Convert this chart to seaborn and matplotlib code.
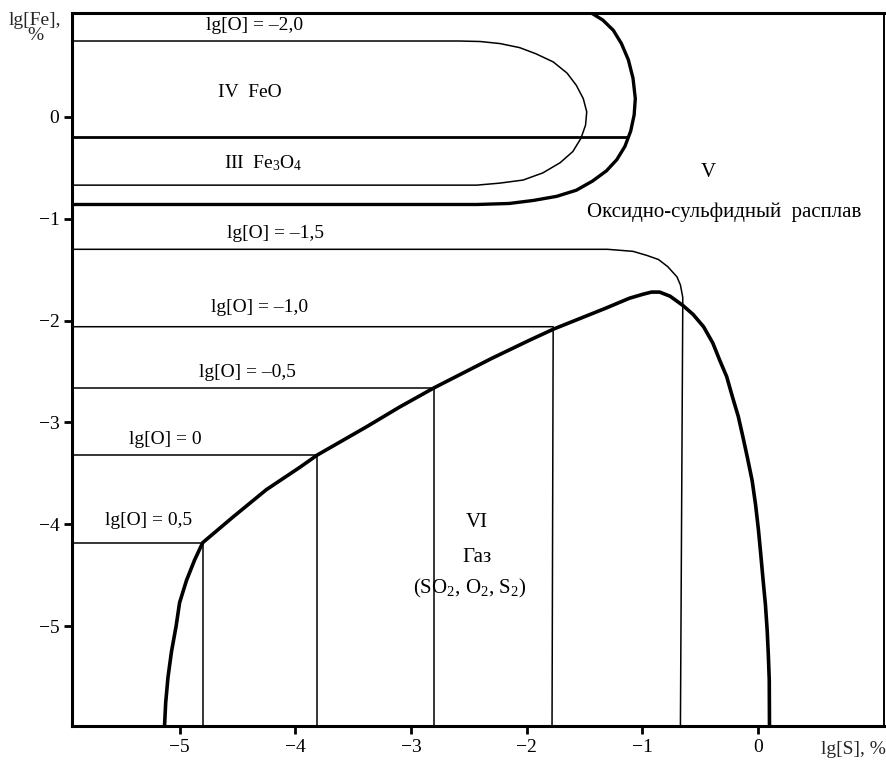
import matplotlib
matplotlib.use("Agg")
import matplotlib.pyplot as plt
import seaborn as sns
import pandas as pd

sns.set_theme(style="white")
plt.rcParams['font.family'] = ['Liberation Serif', 'DejaVu Serif']
plt.rcParams['mathtext.fontset'] = 'custom'
plt.rcParams['mathtext.rm'] = 'Liberation Serif'
plt.rcParams['mathtext.default'] = 'regular'

# ---- data (lg[S], lg[Fe]) ----
XL, YB, YT = -5.93, -5.98, 1.02

# boundary of gas region VI (thick)
gas_x = [-5.13, -5.12, -5.10, -5.07, -5.03, -5.00, -4.94, -4.87, -4.80, -4.54, -4.25, -3.96,
         -3.81, -3.38, -3.10, -2.80, -2.30, -1.97, -1.76, -1.54, -1.32, -1.11, -0.99,
         -0.92, -0.85, -0.76, -0.65, -0.56, -0.47, -0.39, -0.33, -0.27, -0.22, -0.17,
         -0.13, -0.09, -0.05, -0.02, 0.005, 0.025, 0.045, 0.065, 0.08, 0.09, 0.098, 0.10]
gas_y = [-5.98, -5.75, -5.50, -5.25, -5.00, -4.77, -4.55, -4.35, -4.18, -3.93, -3.66, -3.44,
         -3.32, -3.04, -2.85, -2.66, -2.37, -2.19, -2.08, -1.98, -1.88, -1.78, -1.74,
         -1.72, -1.72, -1.76, -1.85, -1.94, -2.06, -2.22, -2.39, -2.55, -2.75, -2.94,
         -3.14, -3.35, -3.57, -3.81, -4.06, -4.30, -4.55, -4.79, -5.04, -5.28, -5.53, -5.98]

# outer thick boundary of oxide region (IV + III)
ox_x = [-1.44, -1.34, -1.25, -1.18, -1.12, -1.08, -1.06, -1.07, -1.10, -1.15, -1.22,
        -1.31, -1.43, -1.57, -1.74, -1.94, -2.15, -2.43, XL]
ox_y = [1.02, 0.95, 0.85, 0.72, 0.56, 0.38, 0.18, 0.02, -0.14, -0.29, -0.42,
        -0.53, -0.63, -0.72, -0.78, -0.82, -0.85, -0.86, -0.86]

# FeO / Fe3O4 boundary (thick horizontal)
feo_x = [XL, -1.13]
feo_y = [-0.20, -0.20]

# iso-oxygen lines
o20_x = [XL, -2.58, -2.40, -2.23, -2.06, -1.92, -1.77, -1.65, -1.57, -1.51, -1.48,
         -1.49, -1.53, -1.60, -1.71, -1.86, -2.03, -2.23, -2.43, -2.58, XL]
o20_y = [0.745, 0.745, 0.74, 0.72, 0.68, 0.62, 0.54, 0.43, 0.31, 0.18, 0.05,
         -0.08, -0.21, -0.34, -0.45, -0.55, -0.62, -0.65, -0.67, -0.67, -0.67]
o15_x = [XL, -1.30, -1.19, -1.08, -0.96, -0.86, -0.78, -0.70, -0.67, -0.65, -0.65, -0.67]
o15_y = [-1.30, -1.30, -1.31, -1.32, -1.36, -1.40, -1.47, -1.57, -1.65, -1.77, -1.90, YB]
o10_x = [XL, -1.77, -1.78]
o10_y = [-2.06, -2.06, YB]
o05_x = [XL, -2.80, -2.80]
o05_y = [-2.66, -2.66, YB]
o00_x = [XL, -3.81, -3.81]
o00_y = [-3.32, -3.32, YB]
op5_x = [XL, -4.80, -4.80]
op5_y = [-4.18, -4.18, YB]

x_ticks = [-5, -4, -3, -2, -1, 0]
y_ticks = [0, -1, -2, -3, -4, -5]

labels = [
    ("lg[O] = –2,0", -4.35, 0.90, 14),
    ("IV  FeO", -4.39, 0.24, 14),
    ("III  Fe$_3$O$_4$", -4.28, -0.45, 14),
    ("V", -0.43, -0.55, 15),
    ("Оксидно-сульфидный  расплав", -0.29, -0.94, 15),
    ("lg[O] = –1,5", -4.17, -1.14, 14),
    ("lg[O] = –1,0", -4.31, -1.87, 14),
    ("lg[O] = –0,5", -4.41, -2.51, 14),
    ("lg[O] = 0", -5.12, -3.17, 14),
    ("lg[O] = 0,5", -5.27, -3.96, 14),
    ("VI", -2.43, -3.98, 15),
    ("Газ", -2.43, -4.33, 15),
    ("(SO$_2$, O$_2$, S$_2$)", -2.49, -4.63, 15),
]

fig = plt.figure(figsize=(8.86, 7.61), dpi=100)
ax = fig.add_axes([72/886, 35/761, 812/886, 713/761])

def draw(xs, ys, lw):
    df = pd.DataFrame({"x": xs, "y": ys})
    sns.lineplot(data=df, x="x", y="y", sort=False, estimator=None,
                 color="black", lw=lw, ax=ax)

draw(gas_x, gas_y, 2.6)
draw(ox_x, ox_y, 2.4)
draw(feo_x, feo_y, 2.0)
for xs, ys in [(o20_x, o20_y), (o15_x, o15_y), (o10_x, o10_y),
               (o05_x, o05_y), (o00_x, o00_y), (op5_x, op5_y)]:
    draw(xs, ys, 1.1)

ax.set_xlim(XL, 1.09)
ax.set_ylim(YB, YT)
ax.set_xticks(x_ticks)
ax.set_yticks(y_ticks)
ax.set_xticklabels([f"−{abs(t)}" if t < 0 else str(t) for t in x_ticks])
ax.set_yticklabels([f"−{abs(t)}" if t < 0 else str(t) for t in y_ticks])
ax.tick_params(direction="out", length=6, width=2, labelsize=14, color="black",
               labelcolor="black", pad=3, bottom=True, left=True)
ax.set_xlabel("")
ax.set_ylabel("")
for s in ["left", "bottom", "top"]:
    ax.spines[s].set_linewidth(2.2)
    ax.spines[s].set_color("black")
ax.spines["right"].set_linewidth(1.4)
ax.spines["right"].set_color("black")

for t, x, y, fs in labels:
    ax.text(x, y, t, ha="center", va="center", fontsize=fs, color="black")

fig.text(35/886, 1 - 28/761, "lg[Fe],\n%", ha="center", va="center",
         fontsize=14, linespacing=0.9)
fig.text(1.0, 1 - 750/761, "lg[S], %", ha="right", va="center", fontsize=14)

fig.savefig("out.png", dpi=100)
